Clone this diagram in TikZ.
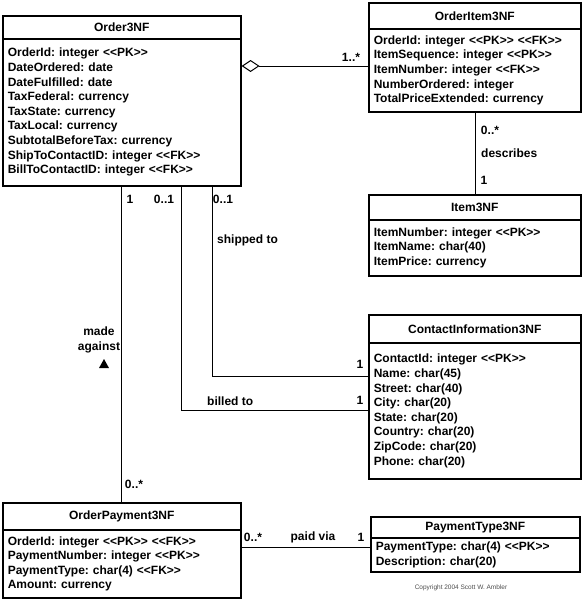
\documentclass[tikz,border=0pt]{standalone}
\usepackage{fontspec}
\setmainfont{Liberation Sans}
\usetikzlibrary{arrows.meta}
\newcommand{\lts}{<{}<}
\newcommand{\gts}{>{}>}
\tikzset{
  uml/.style={draw, line width=1.6pt, anchor=north west, font=\fontsize{12}{14.6}\selectfont\bfseries\frenchspacing},
  hdr/.style={uml, inner sep=0pt},
  body/.style={uml, inner xsep=5pt, inner ysep=0pt, align=left},
  conn/.style={line width=1pt},
  lbl/.style={font=\fontsize{12}{14.6}\selectfont\bfseries, inner sep=0pt},
}
\begin{document}
\begin{tikzpicture}[x=1pt,y=-1pt]
\useasboundingbox (0,0) rectangle (582,600);
% Order3NF
\node[hdr, minimum width=238, minimum height=23] (oh) at (2,15) {Order3NF};
\node[body, minimum width=238, minimum height=147, text width=228] (ob) at (2,38)
 {OrderId: integer \lts PK\gts\\DateOrdered: date\\DateFulfilled: date\\TaxFederal: currency\\TaxState: currency\\TaxLocal: currency\\SubtotalBeforeTax: currency\\ShipToContactID: integer \lts FK\gts\\BillToContactID: integer \lts FK\gts};
% OrderItem3NF
\node[hdr, minimum width=212, minimum height=26] (oih) at (368,2) {OrderItem3NF};
\node[body, minimum width=212, minimum height=83, text width=202] (oib) at (368,28)
 {OrderId: integer \lts PK\gts{} \lts FK\gts\\ItemSequence: integer \lts PK\gts\\ItemNumber: integer \lts FK\gts\\NumberOrdered: integer\\TotalPriceExtended: currency};
% Item3NF
\node[hdr, minimum width=212, minimum height=25] (ih) at (368,194) {Item3NF};
\node[body, minimum width=212, minimum height=56, text width=202] (ib) at (368,219)
 {ItemNumber: integer \lts PK\gts\\ItemName: char(40)\\ItemPrice: currency};
% ContactInformation3NF
\node[hdr, minimum width=212, minimum height=28] (cih) at (368,314) {ContactInformation3NF};
\node[body, minimum width=212, minimum height=136, text width=202] (cib) at (368,342)
 {ContactId: integer \lts PK\gts\\Name: char(45)\\Street: char(40)\\City: char(20)\\State: char(20)\\Country: char(20)\\ZipCode: char(20)\\Phone: char(20)};
% OrderPayment3NF
\node[hdr, minimum width=238, minimum height=27] (oph) at (2,502) {OrderPayment3NF};
\node[body, minimum width=238, minimum height=68, text width=228] (opb) at (2,529)
 {OrderId: integer \lts PK\gts{} \lts FK\gts\\PaymentNumber: integer \lts PK\gts\\PaymentType: char(4) \lts FK\gts\\Amount: currency};
% PaymentType3NF
\node[hdr, minimum width=209, minimum height=21] (pth) at (370,516) {PaymentType3NF};
\node[body, minimum width=209, minimum height=34, text width=199] (ptb) at (370,537)
 {PaymentType: char(4) \lts PK\gts\\Description: char(20)};
% helper coordinates
\coordinate (ya) at (0,66);
\coordinate (x1) at (121,0);
\coordinate (x2) at (181,0);
\coordinate (x3) at (212,0);
\coordinate (x4) at (475,0);
\coordinate (yb) at (0,410);
\coordinate (ys) at (0,376);
\coordinate (yp) at (0,547);
% connectors
\draw[conn, {Diamond[open,length=18pt,width=12pt,line width=1pt]}-] (ob.east |- ya) -- (oib.west |- ya);
\draw[conn] (ob.south -| x1) -- (oph.north -| x1);
\draw[conn] (ob.south -| x2) |- (cib.west |- yb);
\draw[conn] (ob.south -| x3) |- (cib.west |- ys);
\draw[conn] (oib.south -| x4) -- (ih.north -| x4);
\draw[conn] (opb.east |- yp) -- (ptb.west |- yp);
% labels
\node[lbl] (l1) at (351,57) {1..*};
\node[lbl] (l2) at (490,130) {0..*};
\node[lbl, anchor=west] (l3) at (481,153) {describes};
\node[lbl] (l4) at (484,180) {1};
\node[lbl] (l5) at (130,199) {1};
\node[lbl] (l6) at (164,199) {0..1};
\node[lbl] (l7) at (223,199) {0..1};
\node[lbl, anchor=west] (l8) at (217,240) {shipped to};
\node[lbl] (l9) at (360,364) {1};
\node[lbl, anchor=west] (l10) at (207,401) {billed to};
\node[lbl] (l11) at (360,400) {1};
\node[lbl, align=center] (l12) at (99,340) {made\\against};
\fill (99,368) -- (109,368) -- (104,359) -- cycle;
\node[lbl] (l13) at (134,484) {0..*};
\node[lbl] (l14) at (253,537) {0..*};
\node[lbl] (l15) at (313,537) {paid via};
\node[lbl] (l16) at (361,537) {1};
\node[font=\fontsize{6.5}{8}\selectfont, text=black!70, inner sep=0pt] (cr) at (461,588) {Copyright 2004 Scott W. Ambler};
\end{tikzpicture}
\end{document}
